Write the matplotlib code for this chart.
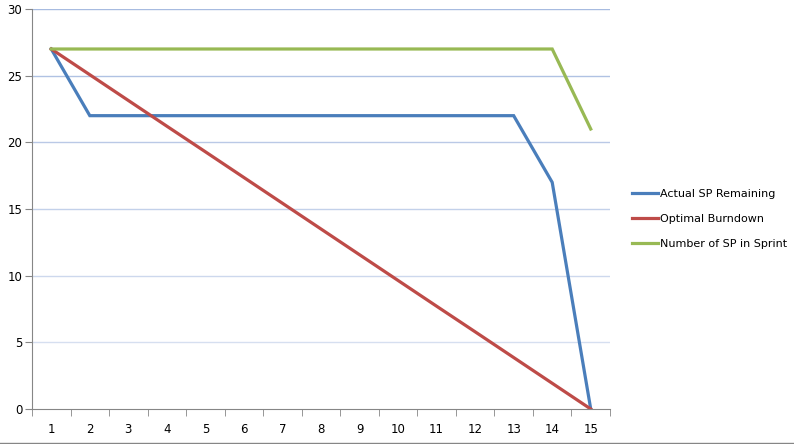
import numpy as np
import matplotlib
matplotlib.use('Agg')
from matplotlib import pyplot as plt

# sprint days and burndown values
days = list(range(1, 16))
actual = [27, 22, 22, 22, 22, 22, 22, 22, 22, 22, 22, 22, 22, 17, 0]
optimal = [27, 25.07, 23.14, 21.21, 19.29, 17.36, 15.43, 13.5, 11.57, 9.64, 7.71, 5.79, 3.86, 1.93, 0]
sprint_sp = [27, 27, 27, 27, 27, 27, 27, 27, 27, 27, 27, 27, 27, 27, 21]
yticks = [0, 5, 10, 15, 20, 25, 30]

fig = plt.figure(figsize=(7.94, 4.44), dpi=100)
ax = fig.add_axes([32/794, 35/444, 578/794, 400/444])

# gridlines, fading towards the bottom like the original
for y in yticks[1:]:
    a = 0.35 + 0.65 * y / 30
    ax.axhline(y, color='#a7bbe0', lw=1, alpha=a, zorder=0)

ax.plot(days, actual, color='#4a7ebb', lw=2.3, label='Actual SP Remaining', solid_joinstyle='miter')
ax.plot(days, optimal, color='#be4b48', lw=2.3, label='Optimal Burndown')
ax.plot(days, sprint_sp, color='#98b954', lw=2.3, label='Number of SP in Sprint', solid_joinstyle='miter')

ax.set_xlim(0.5, 15.5)
ax.set_ylim(0, 30)
ax.set_yticks(yticks)
ax.set_xticks(days)
ax.set_xticks(np.arange(0.5, 16, 1), minor=True)
ax.tick_params(axis='x', which='major', length=0, pad=10, labelsize=8.5)
ax.tick_params(axis='x', which='minor', length=5, color='#868686', direction='out')
ax.tick_params(axis='y', length=5, color='#868686', direction='out', labelsize=8.5, pad=2)

for s in ['top', 'right']:
    ax.spines[s].set_visible(False)
for s in ['left', 'bottom']:
    ax.spines[s].set_color('#868686')

ax.legend(loc='center left', bbox_to_anchor=(1.02, 0.475), frameon=False,
          fontsize=8, handlelength=2.4, handletextpad=0.2, labelspacing=1.35)

# chart area border
fig.add_artist(plt.Line2D([0, 1], [1.5/444, 1.5/444], color='#868686', lw=1))

plt.savefig('out.png', dpi=100)
